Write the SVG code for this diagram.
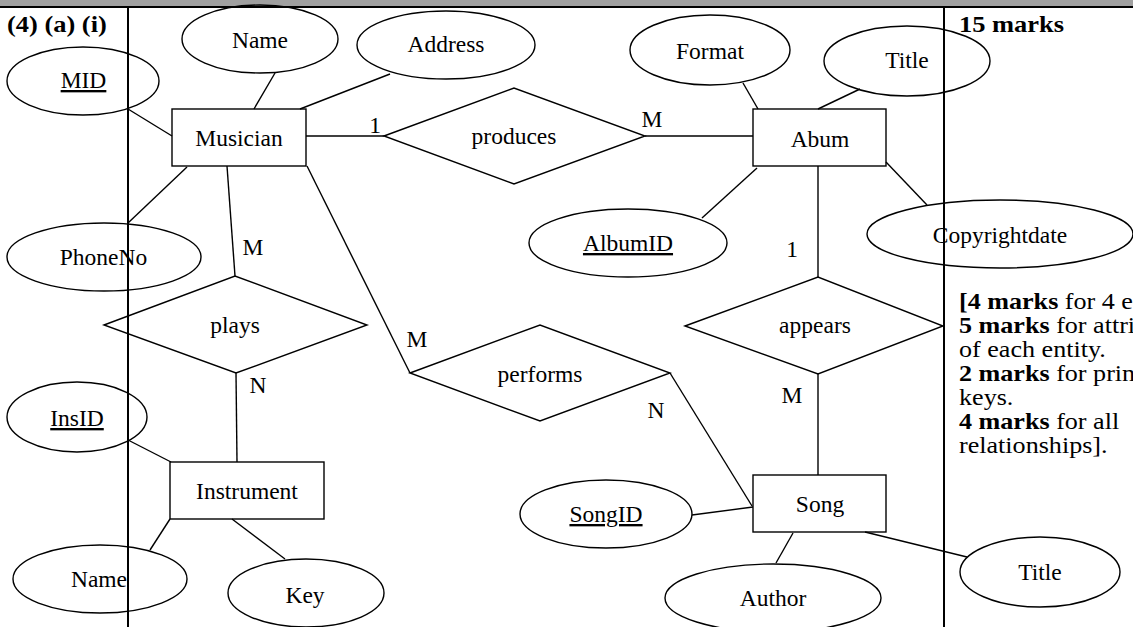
<svg xmlns="http://www.w3.org/2000/svg" width="1133" height="627" viewBox="0 0 1133 627">
<style>
  .shape { fill: none; stroke: #000; stroke-width: 1.4; }
  .conn line, .conn polyline { stroke: #000; stroke-width: 1.4; fill: none; }
  .lbl { font-family: "Liberation Serif", "Times New Roman", serif; font-size: 23.5px; fill: #000; text-anchor: middle; }
  .key { text-decoration: underline; }
  .card { font-family: "Liberation Serif", "Times New Roman", serif; font-size: 23.5px; fill: #000; text-anchor: middle; }
  .hdr { font-family: "Liberation Serif", "Times New Roman", serif; font-size: 23px; font-weight: bold; fill: #000; }
  .note { font-family: "Liberation Serif", "Times New Roman", serif; font-size: 22.5px; fill: #000; }
  .note tspan.b { font-weight: bold; }
  .rule { stroke: #000; stroke-width: 2; }
</style>
<rect x="0" y="0" width="1133" height="627" fill="#fff"/>
<rect x="0" y="0" width="1133" height="6" fill="#a0a0a0"/>

<g id="connectors" class="conn">
  <line x1="128" y1="109" x2="172" y2="136"/>
  <line x1="275" y1="73" x2="254" y2="109"/>
  <line x1="390" y1="74" x2="300" y2="109"/>
  <line x1="187" y1="167" x2="128" y2="223"/>
  <line x1="306" y1="136" x2="384" y2="136"/>
  <line x1="645" y1="136" x2="753" y2="136"/>
  <line x1="743" y1="83" x2="758" y2="109"/>
  <line x1="860" y1="89" x2="818" y2="109"/>
  <line x1="757" y1="168" x2="702" y2="218"/>
  <line x1="886" y1="162" x2="927" y2="205"/>
  <line x1="818" y1="166" x2="818" y2="277"/>
  <line x1="818" y1="374" x2="818" y2="475"/>
  <line x1="227" y1="166" x2="235" y2="276"/>
  <line x1="236" y1="373" x2="237" y2="462"/>
  <line x1="307" y1="166" x2="410" y2="373"/>
  <line x1="670" y1="373" x2="752" y2="506"/>
  <line x1="692" y1="515" x2="753" y2="507"/>
  <line x1="793" y1="533" x2="776" y2="563"/>
  <line x1="865" y1="532" x2="967" y2="557"/>
  <line x1="128" y1="440" x2="171" y2="462"/>
  <line x1="170" y1="519" x2="150" y2="550"/>
  <line x1="232" y1="519" x2="285" y2="559"/>
  <text class="card" x="375" y="133">1</text>
  <text class="card" x="652" y="127">M</text>
  <text class="card" x="253" y="255">M</text>
  <text class="card" x="258" y="393">N</text>
  <text class="card" x="417" y="347">M</text>
  <text class="card" x="656" y="418">N</text>
  <text class="card" x="792" y="257">1</text>
  <text class="card" x="792" y="403">M</text>
</g>

<g id="musician"><rect class="shape" x="172" y="109" width="134" height="57"/><text class="lbl" x="239" y="146">Musician</text></g>
<g id="musician-mid"><ellipse class="shape" cx="83" cy="81" rx="76" ry="34"/><text class="lbl key" x="83.5" y="88">MID</text></g>
<g id="musician-name"><ellipse class="shape" cx="260" cy="39" rx="78" ry="34"/><text class="lbl" x="260" y="48">Name</text></g>
<g id="musician-address"><ellipse class="shape" cx="446" cy="45" rx="89" ry="34"/><text class="lbl" x="446" y="52">Address</text></g>
<g id="musician-phoneno"><ellipse class="shape" cx="104" cy="257" rx="97" ry="34"/><text class="lbl" x="103.5" y="265">PhoneNo</text></g>

<g id="produces"><polygon class="shape" points="384,136 514,88 645,136 514,184"/><text class="lbl" x="514" y="144">produces</text></g>

<g id="album"><rect class="shape" x="753" y="109" width="133" height="57"/><text class="lbl" x="820" y="147">Abum</text></g>
<g id="album-format"><ellipse class="shape" cx="710" cy="50" rx="80" ry="35"/><text class="lbl" x="710" y="59">Format</text></g>
<g id="album-title"><ellipse class="shape" cx="907" cy="61" rx="83" ry="35"/><text class="lbl" x="907" y="68">Title</text></g>
<g id="album-albumid"><ellipse class="shape" cx="628" cy="243" rx="99" ry="34"/><text class="lbl key" x="628" y="251">AlbumID</text></g>
<g id="album-copyrightdate"><ellipse class="shape" cx="1000" cy="234" rx="133" ry="34"/><text class="lbl" x="1000" y="243">Copyrightdate</text></g>

<g id="plays"><polygon class="shape" points="104,325 235,276 367,325 236,373"/><text class="lbl" x="235" y="333">plays</text></g>
<g id="performs"><polygon class="shape" points="410,373 540,325 670,373 540,421"/><text class="lbl" x="540" y="382">performs</text></g>
<g id="appears"><polygon class="shape" points="685,326 818,277 943,326 818,374"/><text class="lbl" x="815" y="333">appears</text></g>

<g id="instrument"><rect class="shape" x="170" y="462" width="154" height="57"/><text class="lbl" x="247" y="499">Instrument</text></g>
<g id="instrument-insid"><ellipse class="shape" cx="77" cy="417" rx="70" ry="35"/><text class="lbl key" x="77" y="426">InsID</text></g>
<g id="instrument-name"><ellipse class="shape" cx="100" cy="579" rx="87" ry="34"/><text class="lbl" x="99" y="587">Name</text></g>
<g id="instrument-key"><ellipse class="shape" cx="306" cy="593" rx="78" ry="34"/><text class="lbl" x="305" y="603">Key</text></g>

<g id="song"><rect class="shape" x="753" y="475" width="133" height="57"/><text class="lbl" x="820" y="512">Song</text></g>
<g id="song-songid"><ellipse class="shape" cx="606" cy="514" rx="86" ry="34"/><text class="lbl key" x="606" y="522">SongID</text></g>
<g id="song-author"><ellipse class="shape" cx="773" cy="598" rx="108" ry="34"/><text class="lbl" x="773" y="606">Author</text></g>
<g id="song-title"><ellipse class="shape" cx="1040" cy="572" rx="80" ry="35"/><text class="lbl" x="1040" y="580">Title</text></g>

<g id="table">
  <line class="rule" x1="0" y1="7" x2="1133" y2="7"/>
  <line class="rule" x1="128" y1="7" x2="128" y2="627"/>
  <line class="rule" x1="944" y1="7" x2="944" y2="627"/>
  <text class="hdr" transform="translate(7,32) scale(1.15,1)">(4) (a) (i)</text>
  <text class="hdr" transform="translate(959,32) scale(1.15,1)">15 marks</text>
  <text class="note" transform="translate(959,309) scale(1.16,1)"><tspan class="b">[4 marks</tspan> for 4 e</text>
  <text class="note" transform="translate(959,333) scale(1.16,1)"><tspan class="b">5 marks</tspan> for attri</text>
  <text class="note" transform="translate(959,357) scale(1.16,1)">of each entity.</text>
  <text class="note" transform="translate(959,381) scale(1.16,1)"><tspan class="b">2 marks</tspan> for prin</text>
  <text class="note" transform="translate(959,405) scale(1.16,1)">keys.</text>
  <text class="note" transform="translate(959,429) scale(1.16,1)"><tspan class="b">4 marks</tspan> for all</text>
  <text class="note" transform="translate(959,453) scale(1.16,1)">relationships].</text>
</g>
</svg>
